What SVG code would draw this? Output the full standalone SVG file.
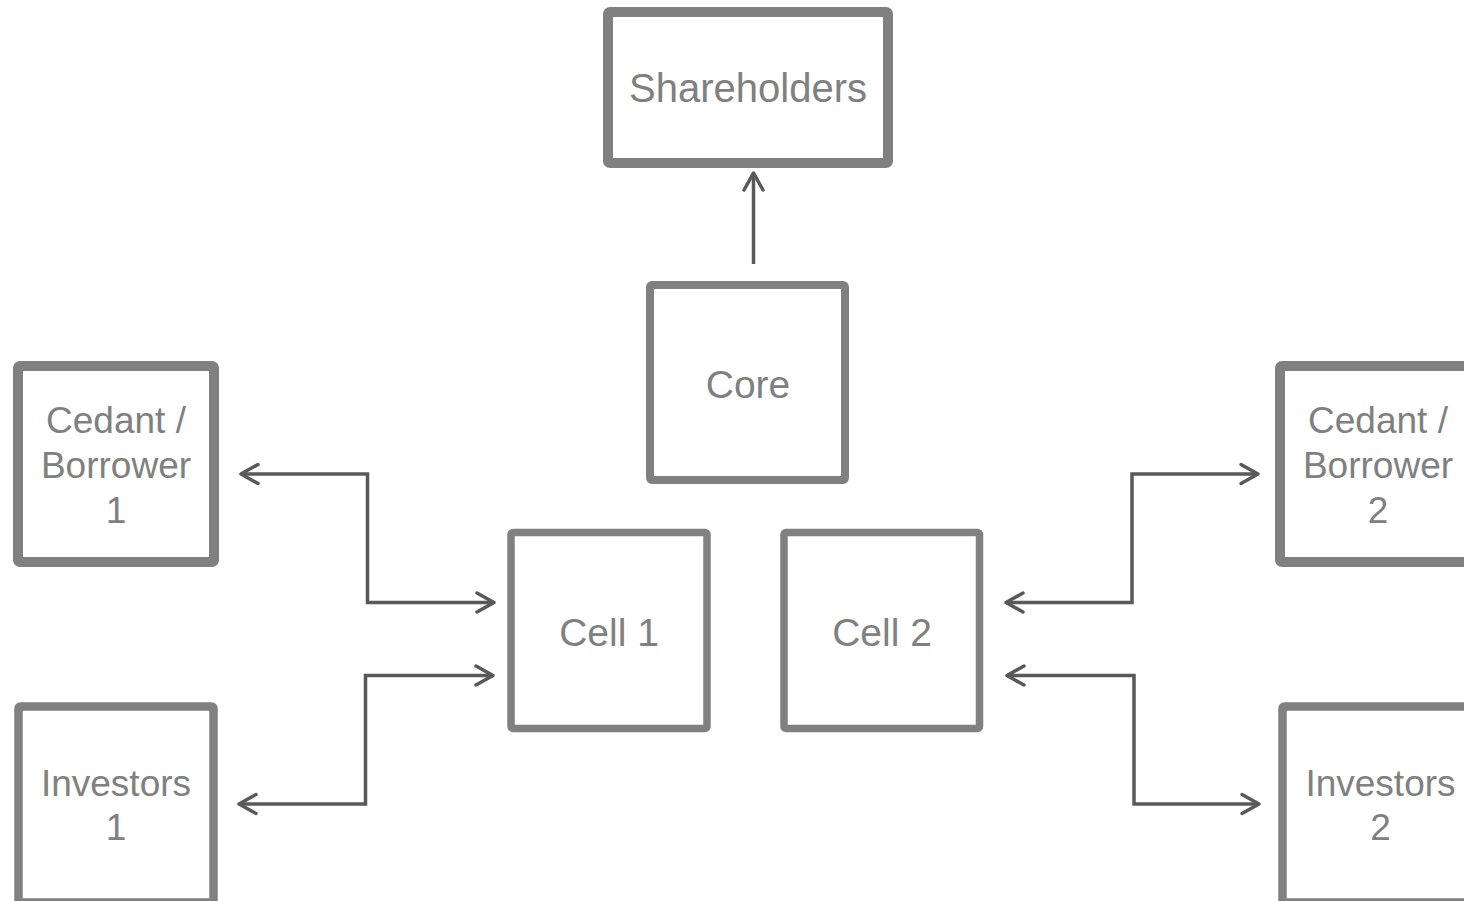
<svg xmlns="http://www.w3.org/2000/svg" width="1464" height="901" viewBox="0 0 1464 901">
<style>
.box{fill:#ffffff;stroke:#808080;stroke-linejoin:round}
.t{font-family:"Liberation Sans",Arial,sans-serif;fill:#808080;text-anchor:middle}
.big{font-size:39px}
.small{font-size:37px}
.conn{fill:none;stroke:#595959;stroke-width:3.5;stroke-linejoin:miter}
.head{fill:none;stroke:#595959;stroke-width:3.5;stroke-linecap:round;stroke-linejoin:round}
</style>
<defs>
<marker id="arr" viewBox="-20 -12 24 24" markerWidth="24" markerHeight="24" refX="0" refY="0" orient="auto-start-reverse" markerUnits="userSpaceOnUse">
<path d="M-17,-9.5 L0,0 L-17,9.5" class="head"/>
</marker>
</defs>
<rect width="1464" height="901" fill="#ffffff"/>
<g id="shareholders">
<rect class="box" x="608" y="12" width="280" height="151" rx="2" stroke-width="10"/>
<text class="t" x="748" y="102" style="font-size:40px">Shareholders</text>
</g>
<g id="core">
<rect class="box" x="650" y="285" width="195" height="195" rx="2" stroke-width="8"/>
<text class="t big" x="748" y="398">Core</text>
</g>
<g id="cell1">
<rect class="box" x="511" y="532.5" width="196" height="196" rx="2" stroke-width="7.5"/>
<text class="t big" x="609" y="646">Cell 1</text>
</g>
<g id="cell2">
<rect class="box" x="784" y="532.5" width="195.5" height="196" rx="2" stroke-width="7.5"/>
<text class="t big" x="882" y="646">Cell 2</text>
</g>
<g id="cedant1">
<rect class="box" x="18" y="366" width="196" height="196" rx="2" stroke-width="10"/>
<text class="t small" x="116" y="433">Cedant /</text>
<text class="t small" x="116" y="478">Borrower</text>
<text class="t small" x="116" y="523">1</text>
</g>
<g id="cedant2">
<rect class="box" x="1280" y="366" width="196" height="196" rx="2" stroke-width="10"/>
<text class="t small" x="1378" y="433">Cedant /</text>
<text class="t small" x="1378" y="478">Borrower</text>
<text class="t small" x="1378" y="523">2</text>
</g>
<g id="investors1">
<rect class="box" x="18.5" y="706.5" width="195" height="196" rx="2" stroke-width="8.5"/>
<text class="t small" x="116" y="796">Investors</text>
<text class="t small" x="116" y="840">1</text>
</g>
<g id="investors2">
<rect class="box" x="1282.5" y="706.5" width="196" height="196" rx="2" stroke-width="8.5"/>
<text class="t small" x="1380.5" y="796">Investors</text>
<text class="t small" x="1380.5" y="840">2</text>
</g>
<g id="connectors">
<path class="conn" d="M753.5,264 L753.5,173" marker-end="url(#arr)"/>
<path class="conn" d="M241,474 L367.5,474 L367.5,602.5 L494,602.5" marker-start="url(#arr)" marker-end="url(#arr)"/>
<path class="conn" d="M239,804 L365.5,804 L365.5,675.5 L493,675.5" marker-start="url(#arr)" marker-end="url(#arr)"/>
<path class="conn" d="M1006,602.5 L1132,602.5 L1132,474 L1258,474" marker-start="url(#arr)" marker-end="url(#arr)"/>
<path class="conn" d="M1007,675.5 L1134,675.5 L1134,804 L1259,804" marker-start="url(#arr)" marker-end="url(#arr)"/>
</g>
</svg>
